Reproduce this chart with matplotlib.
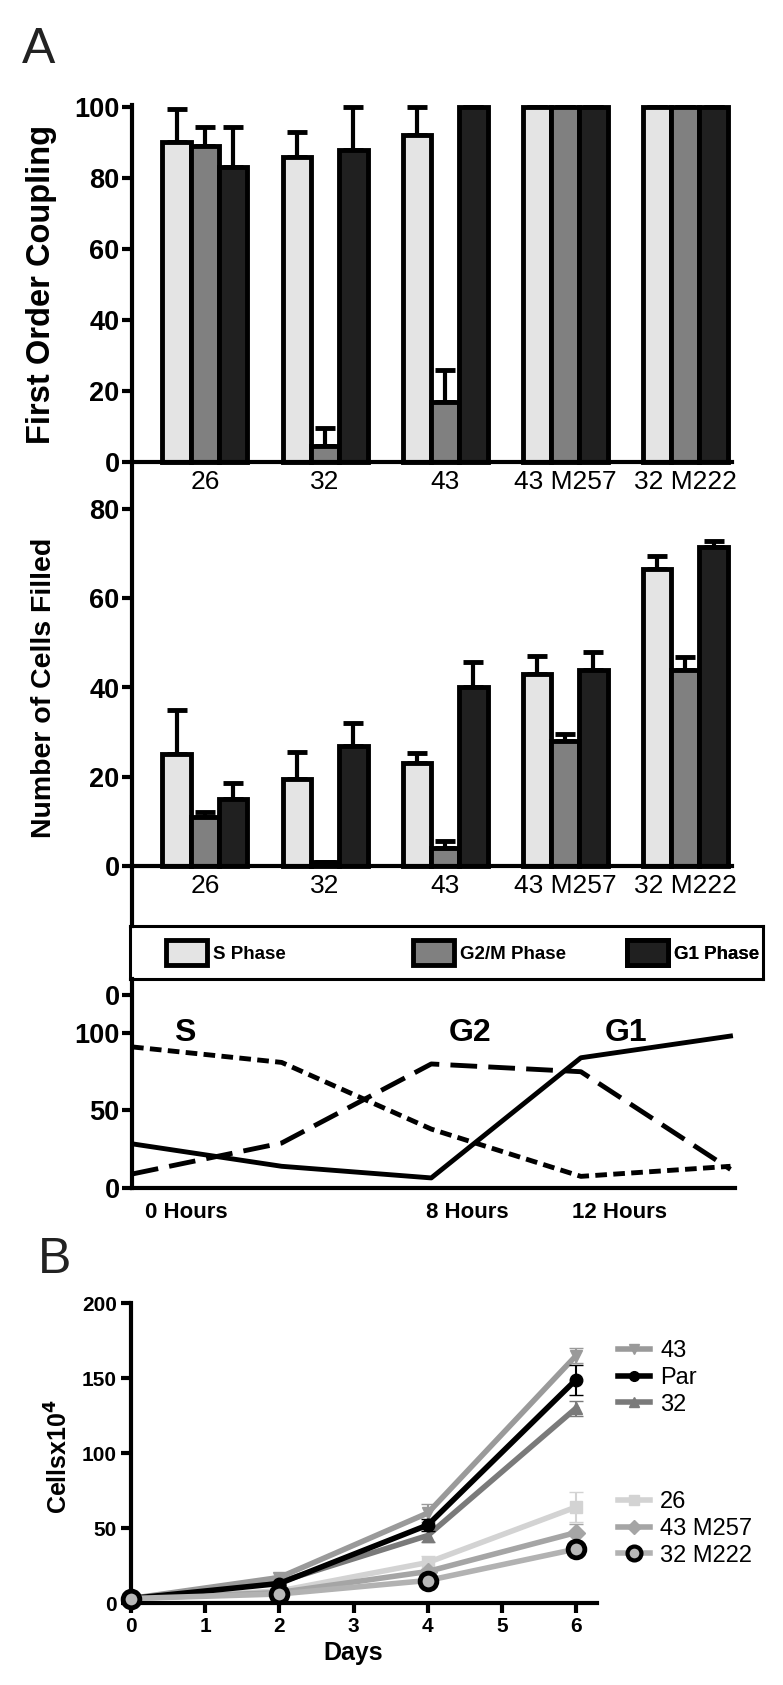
import matplotlib.pyplot as plt
import numpy as np
from matplotlib.lines import Line2D
from matplotlib.patches import Patch

plt.rcParams['font.family'] = ['Liberation Sans', 'DejaVu Sans']

# --- panel A: bar charts ---
groups = ['26', '32', '43', '43 M257', '32 M222']
phases = ['S Phase', 'G2/M Phase', 'G1 Phase']
phase_colors = ['#e4e4e4', '#808080', '#202020']

coupling_s = [90, 86, 92, 100, 100]
coupling_g2m = [89, 4.5, 17, 100, 100]
coupling_g1 = [83, 88, 100, 100, 100]
coupling_s_err = [9.5, 7, 8, 0, 0]
coupling_g2m_err = [5.5, 5, 9, 0, 0]
coupling_g1_err = [11.5, 12, 0, 0, 0]

filled_s = [25, 19.5, 23, 43, 66.5]
filled_g2m = [11, 0.8, 4, 28, 44]
filled_g1 = [15, 27, 40, 44, 71.5]
filled_s_err = [10, 6, 2.3, 4, 3]
filled_g2m_err = [1, 0, 1.5, 1.5, 2.8]
filled_g1_err = [3.5, 5, 5.8, 4, 1.4]

# --- panel A: phase timing lines ---
time_pos = [0, 1, 2, 3, 4]
pct_s = [91, 81, 38, 7.5, 14]
pct_g2 = [9, 29, 80, 75, 12]
pct_g1 = [28.5, 14, 6.5, 84, 98]
hour_labels = ['0 Hours', '8 Hours', '12 Hours']
hour_label_pos = [0.36, 2.24, 3.26]
peak_labels = ['S', 'G2', 'G1']
peak_label_pos = [0.35, 2.26, 3.3]

# --- panel B: growth curves ---
days = [0, 2, 4, 6]
growth_names = ['43', 'Par', '32', '26', '43 M257', '32 M222']
growth_vals = [
    [3, 17, 60, 165],
    [3, 13, 52, 149],
    [3, 14, 45, 130],
    [3, 8, 27, 64],
    [3, 7, 21, 47],
    [3, 6, 15, 36],
]
growth_err = [
    [0, 1, 6, 5],
    [0, 1, 4, 10],
    [0, 1, 4.5, 5],
    [0, 1, 4.5, 10],
    [0, 1, 2, 6],
    [0, 1, 2, 3],
]
growth_colors = ['#9a9a9a', '#000000', '#7a7a7a', '#d3d3d3', '#a5a5a5', '#b2b2b2']
growth_markers = ['v', 'o', '^', 's', 'D', 'o']

W, H = 783, 1685
fig = plt.figure(figsize=(W / 100, H / 100), dpi=100)


def box(l, t, r, b):
    return [l / W, 1 - b / H, (r - l) / W, (b - t) / H]


def bold_ticks(ax):
    for t in ax.get_xticklabels() + ax.get_yticklabels():
        t.set_fontweight('bold')


def bar_panel(ax, series, errs, ymax, yticks, ylabel, ylabel_size):
    x = np.arange(len(groups))
    w = 0.236
    for i, (vals, err, c) in enumerate(zip(series, errs, phase_colors)):
        pos = x + (i - 1) * w
        ax.errorbar(pos, vals, yerr=[np.zeros(len(vals)), err], fmt='none',
                    ecolor='black', elinewidth=3, capsize=7, capthick=3.5,
                    zorder=1, clip_on=False)
        ax.bar(pos, vals, w, color=c, edgecolor='black', linewidth=3.5,
               zorder=2, clip_on=False)
    ax.set_xlim(-0.608, 4.39)
    ax.set_ylim(0, ymax)
    ax.set_yticks(yticks)
    ax.set_xticks(x)
    ax.set_xticklabels(groups)
    for s in ['top', 'right', 'left']:
        ax.spines[s].set_visible(False)
    ax.spines['bottom'].set_linewidth(3)
    ax.tick_params(axis='y', length=7, width=3, labelsize=19.5, pad=2)
    ax.tick_params(axis='x', length=0, labelsize=19, pad=6)
    for t in ax.get_yticklabels():
        t.set_fontweight('bold')
    ax.set_ylabel(ylabel, fontsize=ylabel_size, fontweight='bold')
    ax.yaxis.set_label_coords(-0.125, 0.5)
    ax.patch.set_visible(False)


ax1 = fig.add_axes(box(132, 107, 732, 462))
bar_panel(ax1, [coupling_s, coupling_g2m, coupling_g1],
          [coupling_s_err, coupling_g2m_err, coupling_g1_err],
          100, [0, 20, 40, 60, 80, 100], 'First Order Coupling', 23.5)

ax2 = fig.add_axes(box(132, 509, 732, 866))
bar_panel(ax2, [filled_s, filled_g2m, filled_g1],
          [filled_s_err, filled_g2m_err, filled_g1_err],
          80, [0, 20, 40, 60, 80], 'Number of Cells Filled', 20.5)

# continuous left axis line for the two bar charts
fig.add_artist(Line2D([132 / W, 132 / W], [1 - 105 / H, 1 - 926 / H],
                      color='black', lw=3, transform=fig.transFigure))

# legend box
axl = fig.add_axes(box(130, 926, 763, 979))
axl.set_xticks([])
axl.set_yticks([])
for s in axl.spines.values():
    s.set_linewidth(2.2)
for name, c, xa in zip(phases, phase_colors, [0.057, 0.447, 0.785]):
    leg = axl.legend(handles=[Patch(facecolor=c, edgecolor='black', linewidth=3.5, label=name)],
                     loc='center left', bbox_to_anchor=(xa, 0.5), frameon=False,
                     borderpad=0, borderaxespad=0, handlelength=2.2, handleheight=1.6,
                     handletextpad=0.3, prop={'size': 13.5, 'weight': 'bold'})
    axl.add_artist(leg)

# phase timing line chart
ax3 = fig.add_axes(box(132, 979, 735, 1188))
ax3.plot(time_pos, pct_s, color='black', lw=3.5, dashes=(2.4, 1.3))
ax3.plot(time_pos, pct_g2, color='black', lw=3.5, dashes=(5.5, 2.3))
ax3.plot(time_pos, pct_g1, color='black', lw=3.5)
ax3.set_xlim(0, 4.03)
ax3.set_ylim(0, 134.8)
ax3.set_yticks([0, 50, 100, 124.5])
ax3.set_yticklabels(['0', '50', '100', '0'])
ax3.set_xticks([])
for s in ['top', 'right']:
    ax3.spines[s].set_visible(False)
ax3.spines['left'].set_linewidth(3)
ax3.spines['bottom'].set_linewidth(3)
ax3.tick_params(axis='y', length=7, width=3, labelsize=19.5, pad=2)
bold_ticks(ax3)
for lab, xp in zip(hour_labels, hour_label_pos):
    ax3.text(xp, -0.115, lab, transform=ax3.get_xaxis_transform(), ha='center',
             va='center', fontsize=16, fontweight='bold')
for lab, xp in zip(peak_labels, peak_label_pos):
    ax3.text(xp, 100, lab, ha='center', va='center', fontsize=23,
             fontweight='bold')
ax3.patch.set_visible(False)

# panel B
ax4 = fig.add_axes(box(131, 1303, 597, 1603))
order = [3, 4, 2, 0, 1, 5]
for i in order:
    is_ring = growth_names[i] == '32 M222'
    ax4.errorbar(days, growth_vals[i], yerr=growth_err[i], color=growth_colors[i],
                 lw=4, marker=growth_markers[i],
                 ms=12 if is_ring else 9,
                 mfc='#b8b8b8' if is_ring else growth_colors[i],
                 mec='black' if is_ring else growth_colors[i],
                 mew=3.5 if is_ring else 1,
                 elinewidth=1.5, capsize=5, capthick=1.5, clip_on=False, zorder=3 + order.index(i))
ax4.set_xlim(0, 6.28)
ax4.set_ylim(0, 200)
ax4.set_xticks(range(7))
ax4.set_yticks([0, 50, 100, 150, 200])
for s in ['top', 'right']:
    ax4.spines[s].set_visible(False)
ax4.spines['left'].set_linewidth(3)
ax4.spines['bottom'].set_linewidth(3)
ax4.tick_params(length=7, width=3, labelsize=15, pad=3)
bold_ticks(ax4)
ax4.set_xlabel('Days', fontsize=18, fontweight='bold')
ax4.xaxis.set_label_coords(0.476, -0.125)
ax4.set_ylabel('Cellsx10$^\\mathbf{4}$', fontsize=18, fontweight='bold')
ax4.yaxis.set_label_coords(-0.125, 0.49)


def growth_handle(i):
    is_ring = growth_names[i] == '32 M222'
    return Line2D([0], [0], color=growth_colors[i], lw=4, marker=growth_markers[i],
                  ms=10 if is_ring else 7,
                  mfc='#b8b8b8' if is_ring else growth_colors[i],
                  mec='black' if is_ring else growth_colors[i],
                  mew=3 if is_ring else 1, label=growth_names[i])


for idx, yc in [([0, 1, 2], 1378), ([3, 4, 5], 1529)]:
    leg = fig.legend(handles=[growth_handle(i) for i in idx], loc='center left',
                     bbox_to_anchor=(618 / W, 1 - yc / H), frameon=False,
                     borderpad=0, borderaxespad=0, handlelength=1.36,
                     handletextpad=0.42, labelspacing=0.2, fontsize=17)

fig.text(22 / W, 1 - 63 / H, 'A', fontsize=36, color='#222222', va='baseline', ha='left')
fig.text(38 / W, 1 - 1273 / H, 'B', fontsize=36, color='#222222', va='baseline', ha='left')

fig.savefig('out.png', dpi=100)
